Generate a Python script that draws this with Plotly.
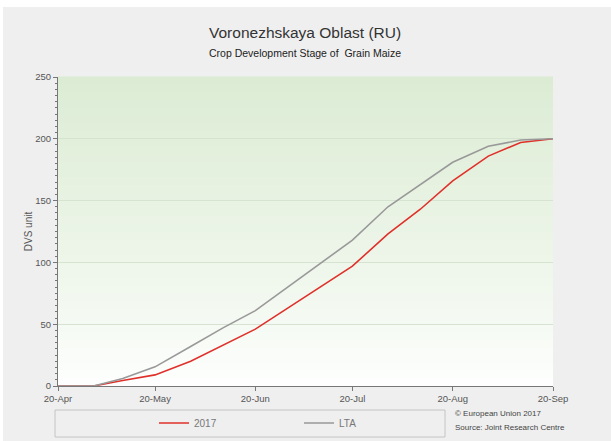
import plotly.graph_objects as go

# dekadal dates
dates = ["2017-04-20", "2017-05-01", "2017-05-10", "2017-05-20", "2017-05-31",
         "2017-06-10", "2017-06-20", "2017-06-30", "2017-07-10", "2017-07-20",
         "2017-07-31", "2017-08-10", "2017-08-20", "2017-08-31", "2017-09-10",
         "2017-09-20"]
dvs_2017 = [0, 0, 4.5, 9, 20, 33, 46, 63, 80, 97, 123, 143, 166, 186, 197, 200]
dvs_lta = [0, 0, 6, 15.5, 32, 47, 61, 80, 99, 118, 145, 163, 181, 194, 199, 200]

tick_dates = ["2017-04-20", "2017-05-20", "2017-06-20", "2017-07-20",
              "2017-08-20", "2017-09-20"]
tick_labels = ["20-Apr", "20-May", "20-Jun", "20-Jul", "20-Aug", "20-Sep"]

fig = go.Figure()
fig.add_trace(go.Scatter(x=dates, y=dvs_2017, mode="lines", name="2017",
                         line=dict(color="#e0302a", width=1.6)))
fig.add_trace(go.Scatter(x=dates, y=dvs_lta, mode="lines", name="LTA",
                         line=dict(color="#999999", width=1.6)))

shapes = []
# grey panel behind everything
shapes.append(dict(type="rect", xref="paper", yref="paper", layer="below",
                   x0=(3 - 58) / 495, x1=(611 - 58) / 495,
                   y0=(386 - 441) / 309, y1=(386 - 7) / 309,
                   fillcolor="#efefef", line=dict(width=0)))
# vertical gradient in plot area: white at bottom -> pale green at top
n = 40
top = (220, 236, 212)
for i in range(n):
    t = ((i + 0.5) / n) ** 0.8
    c = tuple(round(255 + (top[k] - 255) * t) for k in range(3))
    shapes.append(dict(type="rect", xref="x domain", yref="y domain", layer="below",
                       x0=0, x1=1, y0=i / n, y1=(i + 1) / n + 0.002,
                       fillcolor="rgb(%d,%d,%d)" % c, line=dict(width=0)))
# legend box
shapes.append(dict(type="rect", xref="paper", yref="paper",
                   x0=(55 - 58) / 495, x1=(445 - 58) / 495,
                   y0=(386 - 437) / 309, y1=(386 - 410) / 309,
                   fillcolor="rgba(0,0,0,0)", line=dict(color="#c4c4c4", width=1)))

fig.update_layout(
    width=611, height=441,
    margin=dict(l=58, r=58, t=77, b=55, autoexpand=False),
    paper_bgcolor="white",
    plot_bgcolor="white",
    font=dict(family="Liberation Sans, Arial, sans-serif", color="#444444", size=10),
    shapes=shapes,
    showlegend=True,
    legend=dict(orientation="h", x=(154 - 58) / 495, xanchor="left",
                y=(386 - 423) / 309, yanchor="middle",
                entrywidth=100, entrywidthmode="pixels",
                bgcolor="rgba(0,0,0,0)", font=dict(size=10, color="#777777"),
                itemwidth=30),
    annotations=[
        dict(text="Voronezhskaya Oblast (RU)", xref="paper", yref="paper",
             x=(305 - 58) / 495, y=(386 - 32) / 309, showarrow=False,
             xanchor="center", yanchor="middle",
             font=dict(size=15.5, color="#333333")),
        dict(text="Crop Development Stage of  Grain Maize", xref="paper", yref="paper",
             x=(305 - 58) / 495, y=(386 - 53) / 309, showarrow=False,
             xanchor="center", yanchor="middle",
             font=dict(size=10.5, color="#222222")),
        dict(text="© European Union 2017",
             xref="paper", yref="paper", x=(453 - 58) / 495, y=(386 - 413) / 309,
             xanchor="left", yanchor="middle", showarrow=False,
             font=dict(size=8, color="#444444")),
        dict(text="Source: Joint Research Centre",
             xref="paper", yref="paper", x=(453 - 58) / 495, y=(386 - 427) / 309,
             xanchor="left", yanchor="middle", showarrow=False,
             font=dict(size=8, color="#444444")),
    ],
)

fig.update_xaxes(
    type="date", range=["2017-04-20", "2017-09-20"],
    tickvals=tick_dates, ticktext=tick_labels,
    showgrid=False, showline=True, linecolor="#777777", linewidth=1,
    ticks="outside", ticklen=4, tickcolor="#777777",
    tickfont=dict(size=9.5, color="#555555"), zeroline=False,
)
fig.update_yaxes(
    range=[0, 250], dtick=50, tick0=0,
    showgrid=True, gridcolor="#d6e3d1", gridwidth=1,
    showline=True, linecolor="#777777", linewidth=1,
    ticks="outside", ticklen=4, tickcolor="#777777",
    minor=dict(dtick=5, ticks="outside", ticklen=2, tickcolor="#777777", showgrid=False),
    tickfont=dict(size=9.5, color="#555555"), zeroline=False,
    title=dict(text="DVS unit", font=dict(size=10, color="#555555"), standoff=0),
)

fig.write_html("out.html", config={"displayModeBar": False},
               post_script="document.body.style.margin='0';document.body.style.padding='0';")
